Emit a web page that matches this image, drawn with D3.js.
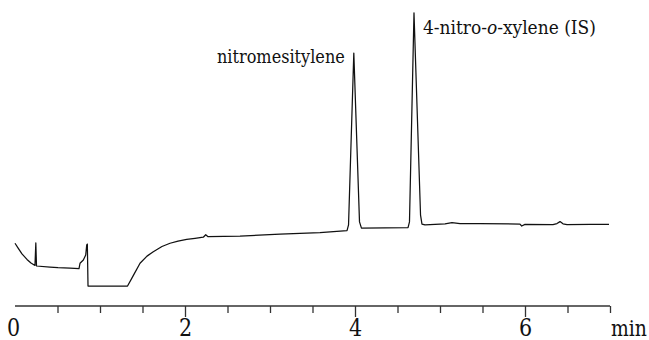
<!DOCTYPE html>
<html>
<head>
<meta charset="utf-8">
<script src="https://cdn.jsdelivr.net/npm/d3@7"></script>
<style>
  html, body { margin: 0; padding: 0; background: #fff; }
  svg { display: block; }
</style>
</head>
<body>
<svg id="chart" width="649" height="340"></svg>
<script>
// retention time (min)
const times = [0.000, 0.035, 0.082, 0.141, 0.188, 0.235, 0.245, 0.253, 0.412, 0.506, 0.647, 0.753,
  0.765, 0.804, 0.832, 0.844, 0.851, 0.859, 1.324, 1.388, 1.471, 1.553, 1.627, 1.729, 1.824, 1.918,
  2.020, 2.118, 2.215, 2.244, 2.271, 2.647, 3.118, 3.588, 3.906, 3.924, 3.986, 4.053, 4.076, 4.353,
  4.624, 4.641, 4.694, 4.771, 4.788, 4.824, 5.059, 5.141, 5.235, 5.471, 5.941, 5.961, 6.000, 6.329,
  6.376, 6.412, 6.447, 6.494, 6.765, 6.988];
// detector signal (arbitrary units)
const signal = [15.6, 13.9, 11.7, 9.7, 8.4, 7.5, 15.7, 7.3, 6.9, 6.7, 6.5, 6.3,
  8.3, 9.5, 11.3, 15.0, 15.3, 0.0, 0.0, 3.6, 8.3, 10.9, 12.5, 14.4, 15.6, 16.4,
  17.0, 17.4, 17.8, 18.7, 18.0, 18.2, 18.9, 19.5, 20.2, 22.3, 85.0, 23.4, 21.1, 21.2,
  21.3, 23.4, 99.7, 25.9, 22.6, 22.3, 22.7, 23.1, 22.8, 22.8, 22.6, 21.9, 22.5, 22.4,
  22.8, 23.5, 22.7, 22.4, 22.5, 22.5];

const minorTicks = [0.5, 1, 1.5, 2.5, 3, 3.5, 4.5, 5, 5.5, 6.5, 7];
const majorTicks = [0, 2, 4, 6];
const majorTickLabels = ["0", "2", "4", "6"];
const axisUnit = "min";

const peakNames = ["nitromesitylene", "4-nitro-"];
const peakTimes = [3.986, 4.694];

const FONT = '"DejaVu Serif", serif';

const svg = d3.select("#chart");
const x = d3.scaleLinear().domain([0, 7]).range([15, 610]);
const y = d3.scaleLinear().domain([0, 100]).range([286, 12]);
const axisY = 306;

// squeeze a text horizontally (about its anchor point) to a target width, to mimic a narrow serif face
function fitWidth(sel, ax, ay, target) {
  const w = sel.node().getComputedTextLength();
  const k = Math.min(1, target / w);
  sel.attr("x", 0).attr("y", 0)
     .attr("transform", `translate(${ax},${ay}) scale(${k},1)`);
}

// minor ticks
const gMinor = svg.append("g").attr("transform", `translate(0,${axisY})`)
  .call(d3.axisBottom(x).tickValues(minorTicks).tickSize(7).tickFormat(""));
// major ticks
const gMajor = svg.append("g").attr("transform", `translate(0,${axisY})`)
  .call(d3.axisBottom(x).tickValues(majorTicks).tickSize(11)
    .tickFormat((d, i) => majorTickLabels[i]).tickSizeOuter(0));
gMinor.select(".domain").remove();
gMajor.attr("font-family", FONT);
gMajor.select(".domain").attr("d", `M${x(0)},0H${x(7)}`).attr("stroke", "#333").attr("stroke-width", 1.3);
svg.selectAll(".tick line").attr("stroke", "#333").attr("stroke-width", 1.3);
gMajor.selectAll(".tick").filter(d => d === 0).select("line").remove();
gMajor.selectAll(".tick text")
  .attr("dy", 0)
  .style("font-family", FONT)
  .style("font-size", "23.5px").attr("fill", "#111")
  .attr("x", 0).attr("y", 0)
  .attr("transform", d => `translate(${d === 0 ? -2 : 0},29.5) scale(0.88,1)`);

const unit = svg.append("text")
  .style("font-family", FONT)
  .style("font-size", "23px").attr("fill", "#111")
  .text(axisUnit);
fitWidth(unit, x(7) + 1, axisY + 29.5, 36);

// trace
const line = d3.line().x((d, i) => x(times[i])).y(d => y(d));
svg.append("path")
  .datum(signal)
  .attr("d", line)
  .attr("fill", "none")
  .attr("stroke", "#111")
  .attr("stroke-width", 1.25)
  .attr("stroke-linejoin", "round");

// peak labels
const t1 = svg.append("text")
  .attr("text-anchor", "end")
  .style("font-family", FONT)
  .style("font-size", "18.5px").attr("fill", "#111")
  .text(peakNames[0]);
fitWidth(t1, x(peakTimes[0]) - 9, 63, 128);

const t2 = svg.append("text")
  .style("font-family", FONT)
  .style("font-size", "18.5px").attr("fill", "#111");
t2.append("tspan").text(peakNames[1]);
t2.append("tspan").style("font-style", "italic").text("o");
t2.append("tspan").text("-xylene (IS)");
fitWidth(t2, x(peakTimes[1]) + 9, 34, 173);
</script>
</body>
</html>
